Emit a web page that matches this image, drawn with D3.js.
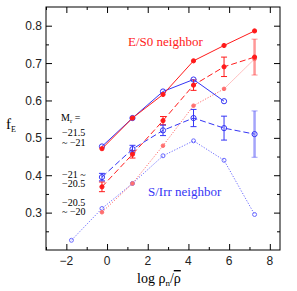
<!DOCTYPE html>
<html>
<head>
<meta charset="utf-8">
<script src="https://cdn.jsdelivr.net/npm/d3@7"></script>
<style>
  body { margin: 0; background: #fff; }
  svg { display: block; }
  text { font-family: "Liberation Sans", Arial, sans-serif; }
  .lab { font-family: "Liberation Serif", "DejaVu Serif", serif; }
</style>
</head>
<body>
<svg id="chart" width="297" height="291"></svg>
<script>
// abscisses des points (log rho_n / rho_bar)
var xs = [-1.75, -0.25, 1.25, 2.75, 4.25, 5.75, 7.25];

// Mr = -21.5 ~ -21 (trait plein)
var redBright = [null, 0.471, 0.553, 0.616, 0.706, 0.747, 0.786];
var blueBright = [null, 0.477, 0.553, 0.624, 0.656, 0.598, null];
// Mr = -21 ~ -20.5 (tirets) + barres d'erreur
var redMid = [null, 0.369, 0.456, 0.546, 0.641, 0.690, 0.716];
var redMidErr = [null, 0.013, 0.010, 0.011, 0.014, 0.026, 0.048];
var blueMid = [null, 0.395, 0.470, 0.520, 0.553, 0.526, 0.510];
var blueMidErr = [null, 0.010, 0.010, 0.014, 0.023, 0.032, 0.062];
// Mr = -20.5 ~ -20 (pointilles)
var redFaint = [null, 0.301, 0.378, 0.479, 0.586, 0.631, 0.711];
var blueFaint = [0.226, 0.311, 0.378, 0.452, 0.492, 0.440, 0.295];

var xTicks = [-2, 0, 2, 4, 6, 8];
var yTicks = [0.3, 0.4, 0.5, 0.6, 0.7, 0.8];

(function() {
    var svg = d3.select("#chart"),
        mLeft = 46, mRight = 280, mTop = 7, mBottom = 250;

    var x = d3.scaleLinear().domain([-3, 8.5]).range([mLeft, mRight]);
    var y = d3.scaleLinear().domain([0.2, 0.85]).range([mBottom, mTop]);

    var RED = "#ff1a1a", BLUE = "#3535f5";

    // cadre + graduations (vers l'interieur, sur les 4 cotes)
    var g = svg.append("g");
    function axes(axis, tr, maj, mino) {
        g.append("g").attr("transform", tr)
            .call(axis.tickValues(mino).tickSize(3).tickFormat(""))
            .call(a => a.select(".domain").remove());
        g.append("g").attr("transform", tr)
            .call(axis.tickValues(maj).tickSize(6).tickFormat(""))
            .call(a => a.select(".domain").remove());
    }
    var xMinor = d3.range(-3, 9, 1).filter(v => v % 2 !== 0);
    var yMinor = d3.range(0.25, 0.85, 0.1).map(v => +v.toFixed(2));

    var fmtX = d3.format("d"), fmtY = d3.format(".1f");
    axes(d3.axisTop(x), "translate(0," + mBottom + ")", xTicks, xMinor);
    axes(d3.axisBottom(x), "translate(0," + mTop + ")", xTicks, xMinor);
    axes(d3.axisRight(y), "translate(" + mLeft + ",0)", yTicks, yMinor);
    axes(d3.axisLeft(y), "translate(" + mRight + ",0)", yTicks, yMinor);
    g.selectAll(".tick line").attr("stroke", "#000");

    g.append("rect").attr("x", mLeft).attr("y", mTop)
        .attr("width", mRight - mLeft).attr("height", mBottom - mTop)
        .attr("fill", "none").attr("stroke", "#000").attr("stroke-width", 1);

    // etiquettes des graduations
    svg.selectAll(".xl").data(xTicks).enter().append("text")
        .attr("x", d => x(d)).attr("y", 265).attr("text-anchor", "middle")
        .attr("font-size", 12).attr("fill", "#222").text(d => fmtX(d).replace("-", "\u2212"));
    svg.selectAll(".yl").data(yTicks).enter().append("text")
        .attr("x", 42).attr("y", d => y(d) + 4.5).attr("text-anchor", "end")
        .attr("font-size", 12).attr("fill", "#222").text(d => fmtY(d));

    // series
    function serie(vals, color, dash, filled, r) {
        var pts = xs.map((v, i) => [v, vals[i]]).filter(p => p[1] !== null);
        var line = d3.line().x(p => x(p[0])).y(p => y(p[1]));
        svg.append("path").datum(pts).attr("d", line)
            .attr("fill", "none").attr("stroke", color).attr("stroke-width", 1)
            .attr("stroke-dasharray", dash);
        svg.append("g").selectAll("circle").data(pts).enter().append("circle")
            .attr("cx", p => x(p[0])).attr("cy", p => y(p[1])).attr("r", r)
            .attr("fill", filled ? color : "none")
            .attr("stroke", color).attr("stroke-width", 1);
    }
    function errs(vals, err, color) {
        var pts = xs.map((v, i) => [v, vals[i], err[i]]).filter(p => p[1] !== null);
        var eg = svg.append("g");
        pts.forEach(function(p, i) {
            var last = i === pts.length - 1;
            var sw = last ? 2.5 : 1, op = last ? 0.45 : 1;
            var cx = x(p[0]), y0 = y(p[1] - p[2]), y1 = y(p[1] + p[2]);
            eg.append("line").attr("x1", cx).attr("x2", cx).attr("y1", y0).attr("y2", y1)
                .attr("stroke", color).attr("stroke-width", sw).attr("stroke-opacity", op);
            [y0, y1].forEach(function(yy) {
                eg.append("line").attr("x1", cx - 3).attr("x2", cx + 3).attr("y1", yy).attr("y2", yy)
                    .attr("stroke", color).attr("stroke-width", 1).attr("stroke-opacity", op);
            });
        });
    }

    errs(redMid, redMidErr, RED);
    errs(blueMid, blueMidErr, BLUE);
    serie(blueFaint, "#6a6aff", "1.2,1.6", false, 2);
    serie(redFaint, "#ff7070", "1.2,1.6", true, 1.8);
    serie(blueMid, BLUE, "6,3", false, 2.6);
    serie(redMid, RED, "6,3", true, 2.1);
    serie(blueBright, BLUE, null, false, 2.6);
    serie(redBright, RED, null, true, 2.1);

    // textes
    svg.append("text").attr("class", "lab").attr("x", 128).attr("y", 46)
        .attr("font-size", 13).attr("fill", RED).text("E/S0 neighbor");
    svg.append("text").attr("class", "lab").attr("x", 148).attr("y", 196)
        .attr("font-size", 13).attr("fill", BLUE).text("S/Irr neighbor");

    var mr = svg.append("text").attr("class", "lab").attr("x", 61).attr("y", 121).attr("font-size", 10);
    mr.append("tspan").text("M");
    mr.append("tspan").attr("font-size", 7).attr("dy", 2).text("r");
    mr.append("tspan").attr("dy", -2).text(" =");
    var leg = [["\u221221.5", 136], ["~ \u221221", 145.5], ["\u221221 ~", 177.5], ["\u221220.5", 187],
               ["\u221220.5", 205.5], ["~ \u221220", 215]];
    leg.forEach(function(l) {
        svg.append("text").attr("class", "lab").attr("x", 62).attr("y", l[1])
            .attr("font-size", 10).text(l[0]);
    });

    var fe = svg.append("text").attr("class", "lab").attr("x", 6).attr("y", 129).attr("font-size", 15);
    fe.append("tspan").text("f");
    fe.append("tspan").attr("font-size", 8).attr("dy", 3).text("E");

    var xl = svg.append("text").attr("class", "lab").attr("x", 137).attr("y", 283).attr("font-size", 14);
    xl.append("tspan").text("log  \u03c1");
    xl.append("tspan").attr("font-size", 9).attr("dy", 3).text("n");
    xl.append("tspan").attr("dy", -3).text("/");
    xl.append("tspan").style("text-decoration", "overline").text("\u03c1");
})();
</script>
</body>
</html>
